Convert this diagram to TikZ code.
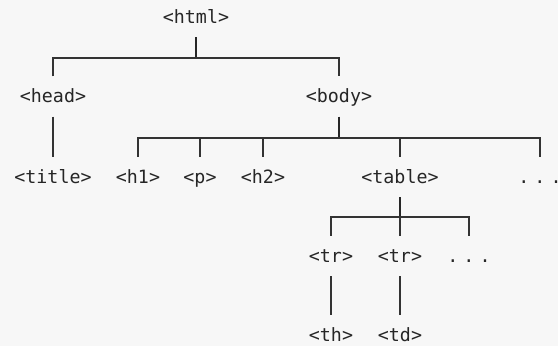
\documentclass[tikz,border=0pt]{standalone}
\usepackage{fontspec}
\setmonofont{DejaVu Sans Mono}
\begin{document}
\begin{tikzpicture}[x=1pt,y=-1pt,
  tag/.style={font=\ttfamily\fontsize{18.3}{22}\selectfont, text=black!85,
    inner sep=0pt, text height=14pt, text depth=2pt, minimum height=40pt},
  link/.style={draw=black!80, line width=1.1pt},
  stem/.style={draw=black!85, line width=1.5pt}]
\fill[black!3] (0,0) rectangle (558,346);
\useasboundingbox (0,0) rectangle (558,346);
\newcommand{\gap}{.\hspace{5pt}.\hspace{5pt}.}

% tags
\node[tag] (html)  at (196,17)  {<html>};
\node[tag] (head)  at (53,96.5) {<head>};
\node[tag] (body)  at (339,96.5){<body>};
\node[tag] (title) at (53,177)  {<title>};
\node[tag] (h1)    at (138,177) {<h1>};
\node[tag] (p)     at (200,177) {<p>};
\node[tag] (h2)    at (263,177) {<h2>};
\node[tag] (table) at (400,177) {<table>};
\node[tag] (more1) at (540,177) {\gap};
\node[tag] (tr1)   at (331,256) {<tr>};
\node[tag] (tr2)   at (400,256) {<tr>};
\node[tag] (more2) at (469,256) {\gap};
\node[tag] (th)    at (331,335) {<th>};
\node[tag] (td)    at (400,335) {<td>};

% branch levels
\coordinate (lvA) at (0,58);
\coordinate (lvB) at (0,138);
\coordinate (lvC) at (0,217);

% html
\draw[stem] (html.south) -- (html.south |- lvA);
\draw[link] (head.north) |- (body.north |- lvA) -- (body.north);
% head
\draw[link] (head.south) -- (title.north);
% body
\draw[stem] (body.south) -- (body.south |- lvB);
\draw[link] (h1.north) |- (more1.north |- lvB) -- (more1.north);
\foreach \c in {p,h2,table} \draw[link] (\c.north |- lvB) -- (\c.north);
% table
\draw[stem] (table.south) -- (table.south |- lvC);
\draw[link] (tr1.north) |- (more2.north |- lvC) -- (more2.north);
\draw[link] (tr2.north |- lvC) -- (tr2.north);
% rows
\draw[link] (tr1.south) -- (th.north);
\draw[link] (tr2.south) -- (td.north);
\end{tikzpicture}
\end{document}
